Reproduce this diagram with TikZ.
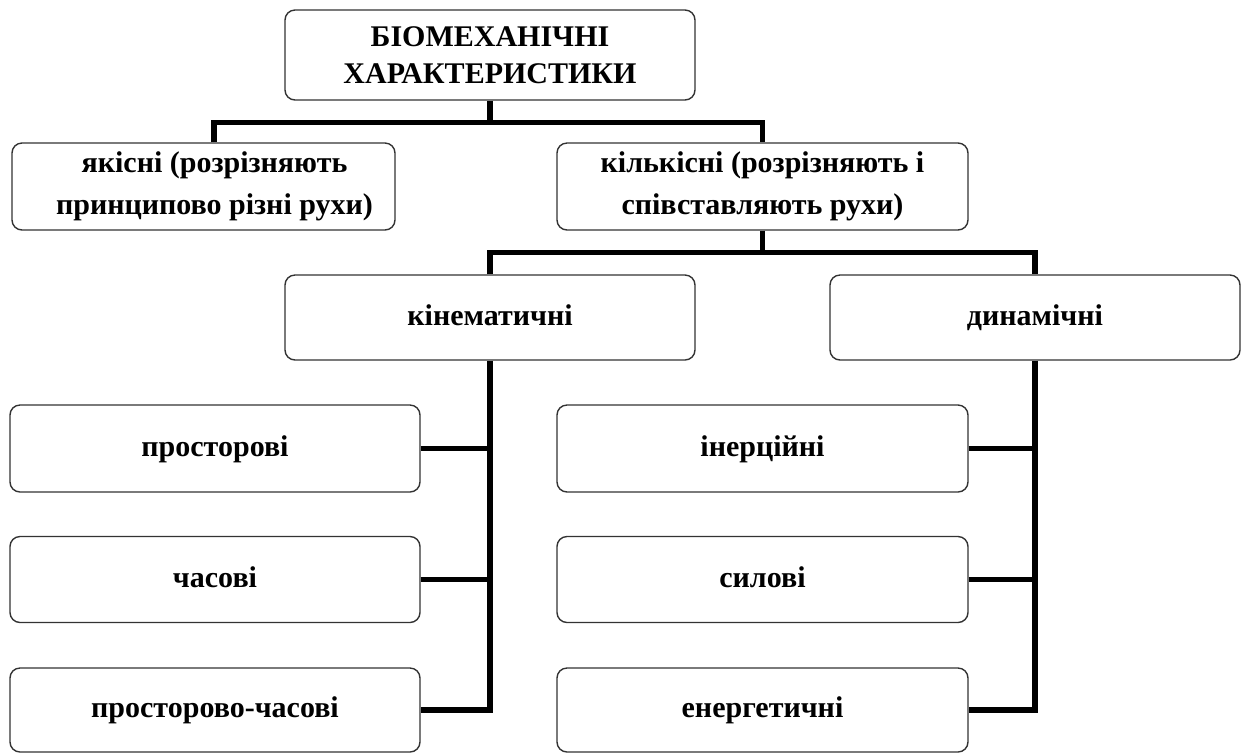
\documentclass[tikz,border=0pt]{standalone}
\usepackage{fontspec}
\setmainfont{Liberation Serif}
\usepackage{tikz}

\begin{document}
\begin{tikzpicture}[x=0.5pt,y=-0.5pt,
  box/.style={draw=black!80,line width=0.7pt,rounded corners=5pt,align=center,
    inner sep=0pt,font=\fontsize{15}{18.3}\selectfont\bfseries},
  pair/.style={box,font=\fontsize{15}{21}\selectfont\bfseries},
  single/.style={box,text height=1.9ex,text depth=0.2ex},
  link/.style={line width=2.6pt,line join=miter}]
\useasboundingbox (0,0) rectangle (1243,752);

% Top node
\node [box,minimum width=205pt,minimum height=45pt] (bio) at (490,55) {БІОМЕХАНІЧНІ\\ХАРАКТЕРИСТИКИ};
% Second level
\node [pair,minimum width=191.5pt,minimum height=43.5pt] (qual) at (203.5,186.5)
  {\hspace*{11pt}якісні (розрізняють\\\hspace*{11pt}принципово різні рухи)};
\node [pair,minimum width=205.5pt,minimum height=43.5pt] (quant) at (762.5,186.5) {кількісні (розрізняють і\\співставляють рухи)};
% Third level
\node [single,minimum width=205pt,minimum height=42.5pt] (kin) at (490,317.5) {кінематичні};
\node [single,minimum width=205pt,minimum height=42.5pt] (dyn) at (1035,317.5) {динамічні};
% Kinematic group
\node [single,minimum width=205pt,minimum height=43.5pt] (spat) at (215,448.5) {просторові};
\node [single,minimum width=205pt,minimum height=43pt] (temp) at (215,579.5) {часові};
\node [single,minimum width=205pt,minimum height=42pt] (spte) at (215,710) {просторово-часові};
% Dynamic group
\node [single,minimum width=205.5pt,minimum height=43.5pt] (inert) at (762.5,448.5) {інерційні};
\node [single,minimum width=205.5pt,minimum height=43pt] (force) at (762.5,579.5) {силові};
\node [single,minimum width=205.5pt,minimum height=42pt] (energ) at (762.5,710) {енергетичні};

% Connectors
\draw [link] (bio.south) -- ++(0,22) coordinate (j1);
\draw [link] ([xshift=5.25pt]qual.north) |- (j1) -| (quant.north);
\draw [link] (quant.south) -- ++(0,21.5) coordinate (j2);
\draw [link] (kin.north) |- (j2) -| (dyn.north);
\draw [link] (kin.south) |- (spte.east);
\draw [link] (spat.east) -- (spat.east -| kin.south);
\draw [link] (temp.east) -- (temp.east -| kin.south);
\draw [link] (dyn.south) |- (energ.east);
\draw [link] (inert.east) -- (inert.east -| dyn.south);
\draw [link] (force.east) -- (force.east -| dyn.south);

\end{tikzpicture}
\end{document}
